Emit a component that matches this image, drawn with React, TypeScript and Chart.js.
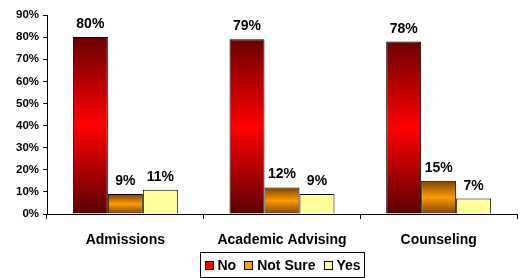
import React, { useEffect, useRef } from "react";
import { Chart, registerables } from "chart.js";

Chart.register(...registerables);

const categories = ["Admissions", "Academic Advising", "Counseling"];
const seriesNames = ["No", "Not Sure", "Yes"];
const noValues = [80, 79, 78];
const notSureValues = [9, 12, 15];
const yesValues = [11, 9, 7];
const yTicks = [0, 10, 20, 30, 40, 50, 60, 70, 80, 90];

const FONT = "'Liberation Sans', Arial, sans-serif";

type Stops = [number, string][];
const redStops: Stops = [[0, "#6a0000"], [0.5, "#ff0000"], [1, "#5a0000"]];
const orangeStops: Stops = [[0, "#7a4400"], [0.5, "#ff9900"], [1, "#7a4400"]];
const legendSolid = ["#ff0000", "#ff9900", "#ffff99"];

function gradientFill(stops: Stops | null, solid: string) {
  return (ctx: any) => {
    if (!stops) return solid;
    const chart = ctx.chart;
    if (!chart.chartArea || ctx.type !== "data") return solid;
    const y = chart.scales.y;
    const top = y.getPixelForValue(ctx.raw);
    const base = y.getPixelForValue(0);
    if (!isFinite(top) || !isFinite(base) || top === base) return solid;
    const g = chart.ctx.createLinearGradient(0, top, 0, base);
    stops.forEach(([o, c]) => g.addColorStop(o, c));
    return g;
  };
}

const dataLabelPlugin = {
  id: "dataLabels",
  afterDatasetsDraw(chart: any) {
    const ctx = chart.ctx;
    ctx.save();
    ctx.font = `bold 14px ${FONT}`;
    ctx.fillStyle = "#000";
    ctx.textAlign = "center";
    ctx.textBaseline = "alphabetic";
    chart.data.datasets.forEach((ds: any, i: number) => {
      const meta = chart.getDatasetMeta(i);
      meta.data.forEach((el: any, j: number) => {
        ctx.fillText(`${ds.data[j]}%`, el.x, el.y - 9);
      });
    });
    ctx.restore();
  },
};

const boxLegendPlugin = {
  id: "boxLegend",
  afterDraw(chart: any) {
    const ctx = chart.ctx;
    ctx.save();
    ctx.font = `bold 14px ${FONT}`;
    const box = 9;
    const gap = 4;
    const itemGap = 8;
    const padX = 4;
    const widths = seriesNames.map((n) => ctx.measureText(n).width);
    const total =
      widths.reduce((a, w) => a + box + gap + w, 0) + itemGap * (seriesNames.length - 1) + padX * 2;
    const cx = 282;
    const left = Math.round(cx - total / 2) + 0.5;
    const top = 252.5;
    const h = 25;
    ctx.strokeStyle = "#000";
    ctx.lineWidth = 1;
    ctx.strokeRect(left, top, Math.round(total), h);
    let x = left + padX;
    const midY = top + h / 2;
    seriesNames.forEach((n, i) => {
      ctx.fillStyle = legendSolid[i];
      ctx.fillRect(Math.round(x), Math.round(midY - box / 2), box, box);
      ctx.strokeStyle = "#000";
      ctx.strokeRect(Math.round(x) + 0.5, Math.round(midY - box / 2) + 0.5, box - 1, box - 1);
      x += box + gap;
      ctx.fillStyle = "#000";
      ctx.textBaseline = "middle";
      ctx.textAlign = "left";
      ctx.fillText(n, x, midY + 1);
      x += widths[i] + itemGap;
    });
    ctx.restore();
  },
};

export default function App() {
  const ref = useRef<HTMLCanvasElement>(null);
  useEffect(() => {
    document.body.style.margin = "0";
    const chart = new Chart(ref.current!, {
      type: "bar",
      data: {
        labels: categories,
        datasets: [
          { label: seriesNames[0], data: noValues, backgroundColor: gradientFill(redStops, "#ff0000") as any },
          { label: seriesNames[1], data: notSureValues, backgroundColor: gradientFill(orangeStops, "#ff9900") as any },
          { label: seriesNames[2], data: yesValues, backgroundColor: "#ffff99" },
        ].map((d) => ({
          ...d,
          borderColor: "#000",
          borderWidth: 1,
          categoryPercentage: 0.67,
          barPercentage: 1,
        })),
      },
      options: {
        animation: false,
        responsive: false,
        maintainAspectRatio: false,
        layout: { padding: { top: 15, right: 3, left: 0, bottom: 0 } },
        plugins: { legend: { display: false }, tooltip: { enabled: false } },
        scales: {
          x: {
            offset: true,
            grid: { offset: true, drawOnChartArea: false, tickLength: 5, color: "#000" },
            border: { color: "#000", width: 1 },
            ticks: { font: { family: FONT, size: 14, weight: "bold" }, color: "#000", padding: 13 },
            afterFit: (s: any) => {
              s.height = 64;
            },
          },
          y: {
            min: 0,
            max: 90,
            afterBuildTicks: (s: any) => {
              s.ticks = yTicks.map((v) => ({ value: v }));
            },
            grid: { drawOnChartArea: false, tickLength: 4, color: "#000" },
            border: { color: "#000", width: 1 },
            ticks: {
              font: { family: FONT, size: 11.5, weight: "bold" },
              color: "#000",
              padding: 4,
              callback: (v: any) => `${v}%`,
            },
            afterFit: (s: any) => {
              s.width = 47;
            },
          },
        },
      },
      plugins: [dataLabelPlugin, boxLegendPlugin],
    });
    return () => chart.destroy();
  }, []);
  return (
    <div style={{ width: 520, height: 278 }}>
      <canvas ref={ref} width={520} height={278} style={{ display: "block" }} />
    </div>
  );
}
